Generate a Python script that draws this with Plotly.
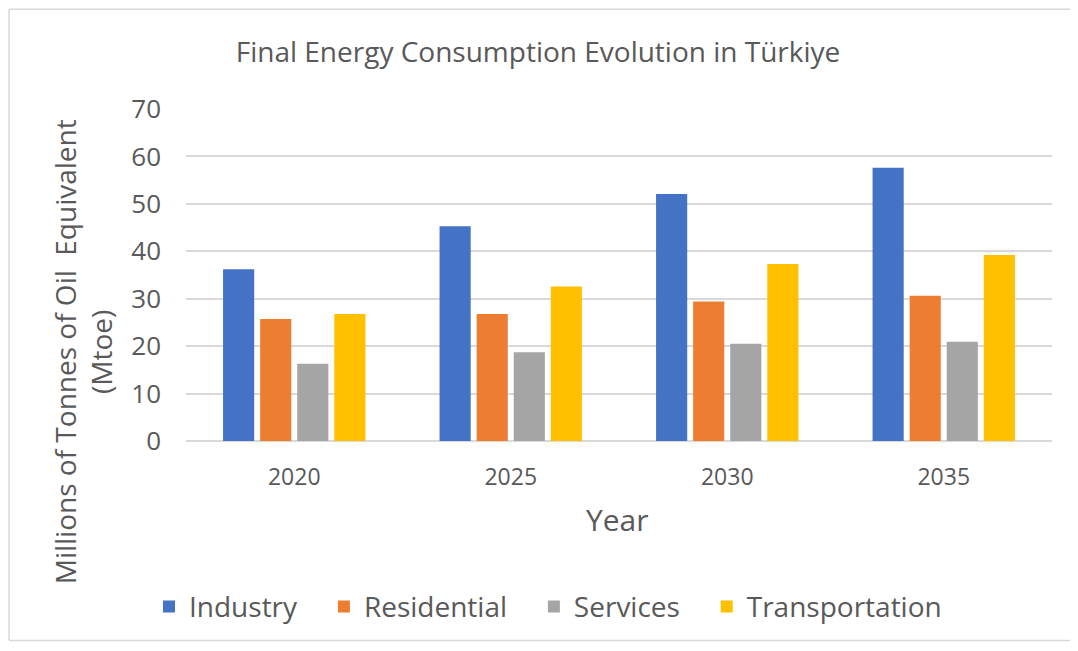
import plotly.graph_objects as go

years = ["2020", "2025", "2030", "2035"]
industry = [36.2, 45.3, 52.1, 57.6]
residential = [25.7, 26.8, 29.4, 30.6]
services = [16.3, 18.7, 20.5, 20.9]
transportation = [26.8, 32.6, 37.3, 39.2]

pad = "\u00a0\u00a0\u00a0"
series = [
    ("Industry" + pad, industry, "#4472C4"),
    ("Residential" + pad, residential, "#ED7D31"),
    ("Services" + pad, services, "#A5A5A5"),
    ("Transportation", transportation, "#FFC000"),
]

fig = go.Figure()
for name, vals, col in series:
    fig.add_trace(go.Bar(x=years, y=vals, name=name, marker_color=col,
                         marker_line_width=0))

font = "'Open Sans', sans-serif"
grey = "#595959"

# page has an 8px body margin, so the figure starts at (8, 8)
fig.update_layout(
    width=1062, height=635,
    margin=dict(l=178, r=18, t=101, b=201),
    paper_bgcolor="white", plot_bgcolor="white",
    barmode="group", bargap=0.315, bargroupgap=0.16,
    font=dict(family=font, color=grey),
    title=dict(text="Final Energy Consumption Evolution in Türkiye",
               x=530 / 1062, xanchor="center", y=1 - 44 / 635, yanchor="middle",
               font=dict(size=28, color=grey)),
    showlegend=True,
    legend=dict(orientation="h", x=(548 - 186) / 866, xanchor="center", y=-0.495,
                yanchor="middle", font=dict(size=28, color=grey),
                itemwidth=30, traceorder="normal"),
)
fig.update_xaxes(showgrid=False, showline=False, ticks="",
                 tickfont=dict(size=23, color=grey), ticklabelstandoff=20)
fig.update_yaxes(range=[0, 70], dtick=10, showgrid=True, gridcolor="#D9D9D9",
                 gridwidth=1.5, zeroline=True, zerolinecolor="#D9D9D9",
                 zerolinewidth=1.5, showline=False, ticks="",
                 tickfont=dict(size=26, color=grey), ticklabelstandoff=24)

fig.add_annotation(text="Millions of Tonnes of Oil  Equivalent<br>(Mtoe)",
                   xref="paper", yref="paper", x=(83 - 186) / 866,
                   y=(442 - 353) / 333, textangle=-90, showarrow=False,
                   font=dict(size=28, color=grey), xanchor="center",
                   yanchor="middle")
fig.add_annotation(text="Year", xref="paper", yref="paper",
                   x=(617 - 186) / 866, y=(442 - 521) / 333, showarrow=False,
                   font=dict(size=30, color=grey), xanchor="center",
                   yanchor="middle")

# chart frame: left, top and bottom edges
fx0 = (9 - 186) / 866
fx1 = (1100 - 186) / 866
fy0 = (442 - 642) / 333
fy1 = (442 - 9) / 333
frame = dict(color="#D9D9D9", width=1.5)
fig.add_shape(type="line", xref="paper", yref="paper", x0=fx0, x1=fx0,
              y0=fy0, y1=fy1, line=frame)
fig.add_shape(type="line", xref="paper", yref="paper", x0=fx0, x1=fx1,
              y0=fy1, y1=fy1, line=frame)
fig.add_shape(type="line", xref="paper", yref="paper", x0=fx0, x1=fx1,
              y0=fy0, y1=fy0, line=frame)

fig.write_html("out.html")
